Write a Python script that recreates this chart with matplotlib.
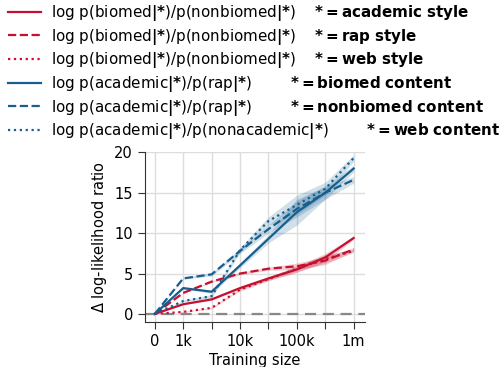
import matplotlib
matplotlib.use("Agg")
import matplotlib.pyplot as plt
import numpy as np

# Training sizes (evenly spaced categories on the x axis)
sizes = ["0", "1k", "3k", "10k", "30k", "100k", "300k", "1m"]
tick_labels = ["0", "1k", "", "10k", "", "100k", "", "1m"]

# Mean log-likelihood ratio differences
style_academic = [0.0, 1.2, 1.8, 3.2, 4.4, 5.5, 7.0, 9.4]
style_rap = [0.0, 2.6, 4.0, 5.0, 5.6, 5.9, 6.6, 8.0]
style_web = [0.0, 0.25, 0.75, 3.0, 4.3, 5.6, 6.8, 7.8]
content_biomed = [0.0, 3.2, 2.75, 6.0, 9.3, 12.6, 15.0, 18.0]
content_nonbiomed = [0.0, 4.4, 4.9, 7.8, 10.5, 13.0, 15.0, 16.6]
content_web = [0.0, 1.6, 2.2, 7.9, 11.5, 13.5, 15.5, 19.3]

# Spread (half-width of the shaded band)
sd_style_academic = [0.0, 0.05, 0.1, 0.15, 0.2, 0.35, 0.5, 0.2]
sd_style_rap = [0.0, 0.05, 0.1, 0.15, 0.2, 0.4, 0.5, 0.2]
sd_style_web = [0.0, 0.05, 0.1, 0.15, 0.2, 0.4, 0.5, 0.2]
sd_content_biomed = [0.0, 0.1, 0.2, 0.3, 0.5, 1.6, 0.8, 0.4]
sd_content_nonbiomed = [0.0, 0.1, 0.2, 0.3, 0.5, 1.0, 0.8, 0.4]
sd_content_web = [0.0, 0.1, 0.2, 0.3, 0.5, 1.2, 0.8, 0.4]

RED = "#c5102f"
BLUE = "#165f8f"

bar = r"$\mathbf{|{*}}$"
lab_style = "log p(biomed" + bar + ")/p(nonbiomed" + bar + ")"
lab_content = "log p(academic" + bar + ")/p(rap" + bar + ")"
lab_web = "log p(academic" + bar + ")/p(nonacademic" + bar + ")"

series = [
    (style_academic, sd_style_academic, RED, "-", lab_style + "    " + r"$\mathbf{*=academic\ style}$"),
    (style_rap, sd_style_rap, RED, "--", lab_style + "    " + r"$\mathbf{*=rap\ style}$"),
    (style_web, sd_style_web, RED, ":", lab_style + "    " + r"$\mathbf{*=web\ style}$"),
    (content_biomed, sd_content_biomed, BLUE, "-", lab_content + "        " + r"$\mathbf{*=biomed\ content}$"),
    (content_nonbiomed, sd_content_nonbiomed, BLUE, "--", lab_content + "        " + r"$\mathbf{*=nonbiomed\ content}$"),
    (content_web, sd_content_web, BLUE, ":", lab_web + "        " + r"$\mathbf{*=web\ content}$"),
]

plt.rcParams["font.family"] = ["DejaVu Sans"]
plt.rcParams["font.size"] = 10.5

fig = plt.figure(figsize=(5.03, 3.67), dpi=100)
ax = fig.add_axes([0.288, 0.1226, 0.4376, 0.4632])

x = np.arange(len(sizes))
handles = []
for vals, sd, color, ls, label in series:
    v = np.array(vals)
    s = np.array(sd)
    ax.fill_between(x, v - s, v + s, color=color, alpha=0.2, linewidth=0)
    (h,) = ax.plot(x, v, color=color, linestyle=ls, linewidth=1.6, label=label)
    handles.append(h)

ax.axhline(0, color="#888888", linestyle=(0, (5, 3)), linewidth=1.6, zorder=1)

ax.set_xlim(-0.35, 7.4)
ax.set_ylim(-1.0, 20.05)
ax.set_xticks(x)
ax.set_xticklabels(tick_labels)
ax.set_yticks([0, 5, 10, 15, 20])
ax.grid(True, color="#dddddd", linewidth=1)
ax.set_axisbelow(True)
for side in ("top", "right"):
    ax.spines[side].set_visible(False)
for side in ("left", "bottom"):
    ax.spines[side].set_color("#333333")
ax.tick_params(colors="#333333", labelcolor="black", length=5)
ax.set_xlabel("Training size", labelpad=3)
ax.set_ylabel(r"$\Delta$ log-likelihood ratio")

fig.legend(handles=handles, loc="upper left", bbox_to_anchor=(0.01, 1.0),
           frameon=False, fontsize=10.9, handlelength=2.15, handletextpad=0.7,
           labelspacing=0.24, borderpad=0.2, borderaxespad=0)

fig.savefig("out.png", dpi=100)
